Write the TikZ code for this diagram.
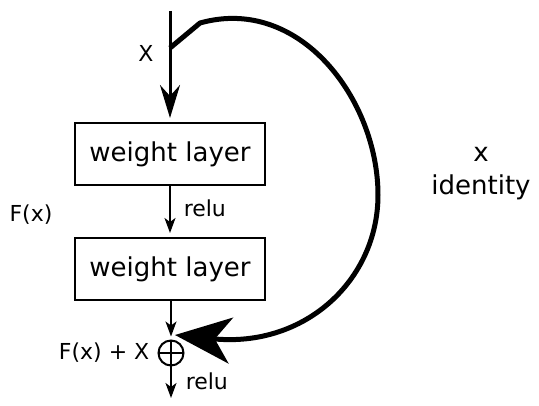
\documentclass[tikz,border=0pt]{standalone}
\usepackage{fontspec}
\setmainfont{DejaVu Sans}
\usetikzlibrary{arrows.meta, positioning}

\tikzset{
  layerbox/.style={draw, line width=2pt, minimum width=190pt, minimum height=62pt, inner sep=0pt, font=\fontsize{26}{30}\selectfont},
  lbl/.style={inner sep=2pt, font=\fontsize{22}{26}\selectfont},
  mainarrow/.style={line width=3pt, -{Stealth[length=33pt,width=20pt,inset=11pt]}},
  thinarrow/.style={line width=1.5pt, -{Stealth[length=15pt,width=11pt,inset=4pt]}},
  skiparrow/.style={line width=5pt, line join=round, -{Stealth[length=56pt,width=46pt,inset=16pt]}},
}

\begin{document}
\begin{tikzpicture}[x=1pt,y=-1pt]
\useasboundingbox (0,0) rectangle (539,406);
% input, the two layers and the sum
\coordinate (in) at (170,11);
\coordinate (split) at (170,48);
\node[layerbox] (w1) at (170,154) {weight layer};
\node[layerbox] (w2) at (170,269) {weight layer};
\node[circle, draw, line width=2pt, minimum size=25pt, inner sep=0pt, outer sep=0pt] (add) at (171,353) {};
\coordinate (out) at (171,398);
\coordinate (skipend) at (175,335);

\draw[mainarrow, shorten >=4pt] (in) -- (w1.north);
\draw[thinarrow, shorten >=4pt] (w1.south) -- (w2.north) node[lbl, midway, right=11pt, yshift=3pt] {relu};
\draw[thinarrow, shorten >=4pt] (w2.south -| add) -- (add.north);
\draw[thinarrow] (add.south) -- (out) node[lbl, midway, right=12pt] {relu};
\draw[line width=1.8pt] (add.north) -- (add.south) (add.west) -- (add.east);

% labels
\node[lbl, left=7pt of add] (sumlbl) {F(x) + X};
\node[lbl] (xlbl) at (146,53) {X};
\node[lbl] (flbl) at (31,215) {F(x)};
\node[align=center, font=\fontsize{26}{33}\selectfont] (idlbl) at (481,174) {x\\identity};

% identity shortcut
\draw[skiparrow] (split) -- (200,23) .. controls (300,-5) and (378,100) .. (378,195)
  .. controls (378,280) and (305,348) .. (skipend);
\end{tikzpicture}
\end{document}
